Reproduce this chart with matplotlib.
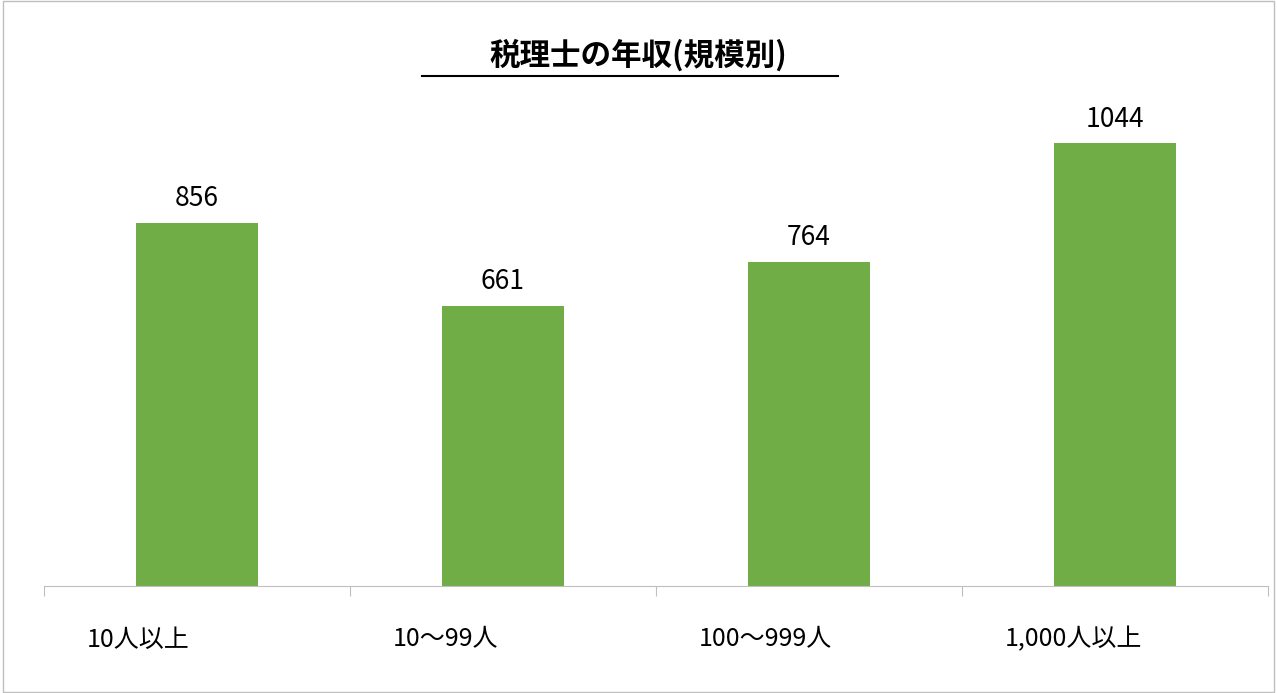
import matplotlib
matplotlib.use("Agg")
import matplotlib.pyplot as plt
from matplotlib.lines import Line2D
from matplotlib.patches import Rectangle

plt.rcParams['font.family'] = ['Noto Sans CJK JP', 'DejaVu Sans']

categories = ["10人以上", "10〜99人", "100〜999人", "1,000人以上"]
values = [856, 661, 764, 1044]
title = "税理士の年収(規模別)"

fig = plt.figure(figsize=(12.77, 6.93), dpi=100)
fig.patches.append(Rectangle((0.002, 0.002), 0.996, 0.996, transform=fig.transFigure,
                             fill=False, edgecolor="#bfbfbf", linewidth=1))
ax = fig.add_axes([44/1277, 107/693, 1224/1277, 509/693])
x = list(range(len(values)))
ax.bar(x, values, width=0.4, color="#70AD47")
for xi, v in zip(x, values):
    ax.text(xi, v + 25, str(v), ha="center", va="bottom", fontsize=19)
ax.set_xlim(-0.5, len(values) - 0.5)
ax.set_ylim(0, 1200)
ax.set_yticks([])
for s in ["top", "right", "left"]:
    ax.spines[s].set_visible(False)
ax.spines["bottom"].set_color("#bfbfbf")
ax.set_xticks([i - 0.5 for i in range(len(values) + 1)], minor=False)
ax.set_xticklabels([])
ax.tick_params(axis="x", length=7, color="#bfbfbf", direction="out")
for xi, c in zip(x, categories):
    ax.text(xi - 0.36, -0.105, c, transform=ax.get_xaxis_transform(),
            ha="left", va="center", fontsize=18)
t = fig.text(0.5, 1 - 55/693, title, ha="center", va="center", fontsize=22, fontweight="bold")
fig.lines.append(Line2D([422/1277, 838/1277], [1 - 76/693] * 2, transform=fig.transFigure,
                        color="black", linewidth=1.5))
fig.savefig("out.png", dpi=100)
